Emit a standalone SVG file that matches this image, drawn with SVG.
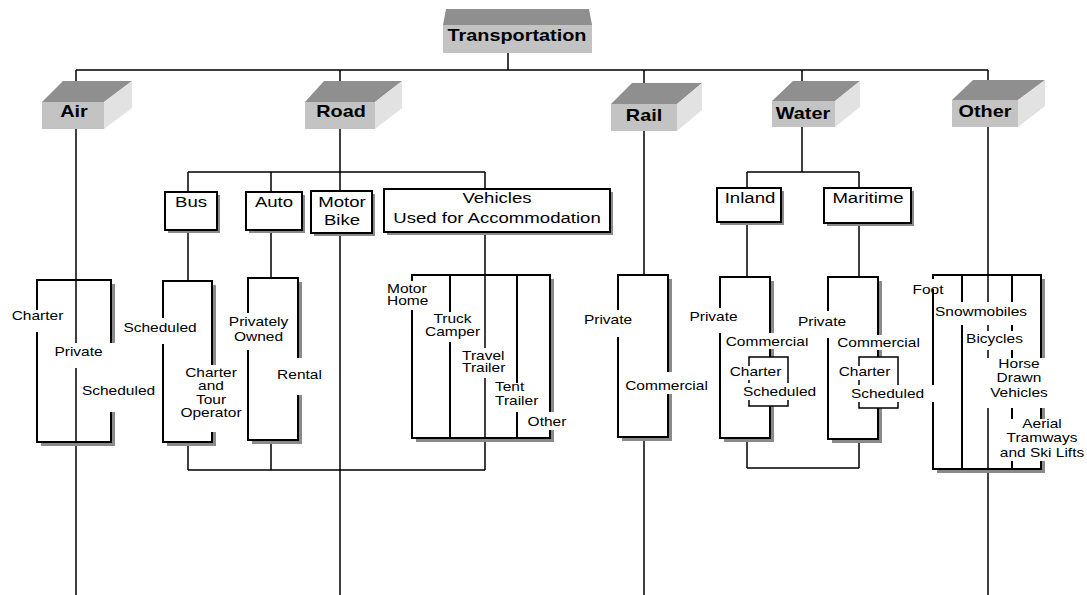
<svg xmlns="http://www.w3.org/2000/svg" width="1087" height="595" viewBox="0 0 1087 595">
<style>
.c{fill:none;stroke:#000;stroke-width:1.5}
.bx{fill:none;stroke:#000;stroke-width:2}
.wb{fill:#fff;stroke:#000;stroke-width:2}
.sh{fill:#8a8a8a}
.top{fill:#8f8f8f}
.fr{fill:#c3c3c3}
.sd{fill:#e2e2e2}
.bg{fill:#fff}
text{font-family:"Liberation Sans",Arial,sans-serif;fill:#000}
.s{font-size:12.5px;text-anchor:middle}
.sl{font-size:12.5px;text-anchor:start}
.b{font-size:15px;text-anchor:middle}
.h{font-size:16px;font-weight:bold;text-anchor:middle}
</style>
<rect width="1087" height="595" fill="#fff"/>
<g id="connectors">
<path class="c" d="M508 53V70M76 70H988M76 70V595M340 70V595M644 70V275M644 437V595M802 70V172M988 70V595"/>
<path class="c" d="M188 172H485M188 172V192M271 172V192M485 172V189M188 230V281M188 442V470M271 230V278M271 440V470M485 232V470M188 470H485"/>
<path class="c" d="M747 172H859M747 172V188M859 172V188M747 222V277M747 438V468M859 223V277M859 439V468M747 468H859"/>
</g>
<g id="transportation">
<polygon class="top" points="443,25 592,25 589,9 446,9"/>
<rect class="fr" x="443" y="25" width="149" height="28"/>
<text class="h" transform="translate(517,41) scale(1.24,1)">Transportation</text>
</g>
<g id="air">
<polygon class="top" points="42,102 104,102 132,81 63,81"/>
<polygon class="sd" points="104,102 132,81 132,108 104,129"/>
<rect class="fr" x="42" y="102" width="62" height="27"/>
<text class="h" transform="translate(74,117) scale(1.24,1)">Air</text>
</g>
<g id="road">
<polygon class="top" points="305,102 375,102 402,81 324,81"/>
<polygon class="sd" points="375,102 402,81 402,108 375,129"/>
<rect class="fr" x="305" y="102" width="70" height="27"/>
<text class="h" transform="translate(341,117) scale(1.24,1)">Road</text>
</g>
<g id="rail">
<polygon class="top" points="611,104 677,104 702,83 632,83"/>
<polygon class="sd" points="677,104 702,83 702,110 677,131"/>
<rect class="fr" x="611" y="104" width="66" height="27"/>
<text class="h" transform="translate(644,121) scale(1.24,1)">Rail</text>
</g>
<g id="water">
<polygon class="top" points="772,101 835,101 860,81 793,81"/>
<polygon class="sd" points="835,101 860,81 860,107 835,127"/>
<rect class="fr" x="772" y="101" width="63" height="26"/>
<text class="h" transform="translate(803,119) scale(1.24,1)">Water</text>
</g>
<g id="other">
<polygon class="top" points="952,100 1018,100 1045,80 973,80"/>
<polygon class="sd" points="1018,100 1045,80 1045,106 1018,127"/>
<rect class="fr" x="952" y="100" width="66" height="27"/>
<text class="h" transform="translate(985,117) scale(1.24,1)">Other</text>
</g>
<g id="bus">
<rect class="sh" x="168" y="195" width="52" height="38"/>
<rect class="wb" x="165" y="192" width="52" height="38"/>
<text class="b" transform="translate(191,207) scale(1.24,1)">Bus</text>
</g>
<g id="auto">
<rect class="sh" x="249" y="195" width="56" height="38"/>
<rect class="wb" x="246" y="192" width="56" height="38"/>
<text class="b" transform="translate(274,207) scale(1.24,1)">Auto</text>
</g>
<g id="motorbike">
<rect class="sh" x="314" y="194" width="61" height="42"/>
<rect class="wb" x="311" y="191" width="61" height="42"/>
<text class="b" transform="translate(342,207) scale(1.24,1)"><tspan x="0">Motor</tspan><tspan x="0" dy="18">Bike</tspan></text>
</g>
<g id="vehicles">
<rect class="sh" x="387" y="192" width="226" height="43"/>
<rect class="wb" x="384" y="189" width="226" height="43"/>
<text class="b" transform="translate(497,203) scale(1.24,1)"><tspan x="0">Vehicles</tspan><tspan x="0" dy="20">Used for Accommodation</tspan></text>
</g>
<g id="inland">
<rect class="sh" x="720" y="191" width="64" height="34"/>
<rect class="wb" x="717" y="188" width="64" height="34"/>
<text class="b" transform="translate(750,203) scale(1.24,1)">Inland</text>
</g>
<g id="maritime">
<rect class="sh" x="827" y="191" width="87" height="35"/>
<rect class="wb" x="824" y="188" width="87" height="35"/>
<text class="b" transform="translate(868,203) scale(1.24,1)">Maritime</text>
</g>
<g id="air-types">
<polygon class="sh" points="111,284 115,284 115,446 41,446 41,442 111,442"/>
<rect class="bx" x="37" y="280" width="74" height="162"/>
</g>
<g id="bus-types">
<polygon class="sh" points="212,285 216,285 216,446 167,446 167,442 212,442"/>
<rect class="bx" x="163" y="281" width="49" height="161"/>
</g>
<g id="auto-types">
<polygon class="sh" points="298,282 302,282 302,444 252,444 252,440 298,440"/>
<rect class="bx" x="248" y="278" width="50" height="162"/>
</g>
<g id="vehicle-types">
<polygon class="sh" points="550,279 554,279 554,442 416,442 416,438 550,438"/>
<rect class="bx" x="412" y="275" width="138" height="163"/>
<path class="bx" d="M450 275V438M517 275V438"/>
</g>
<g id="rail-types">
<polygon class="sh" points="668,279 672,279 672,441 622,441 622,437 668,437"/>
<rect class="bx" x="618" y="275" width="50" height="162"/>
</g>
<g id="inland-types">
<polygon class="sh" points="770,281 774,281 774,442 724,442 724,438 770,438"/>
<rect class="bx" x="720" y="277" width="50" height="161"/>
<rect fill="#fff" stroke="#000" stroke-width="1.5" x="749" y="357" width="39" height="49"/>
</g>
<g id="maritime-types">
<polygon class="sh" points="878,281 882,281 882,443 832,443 832,439 878,439"/>
<rect class="bx" x="828" y="277" width="50" height="162"/>
<rect fill="#fff" stroke="#000" stroke-width="1.5" x="859" y="357" width="39" height="51"/>
</g>
<g id="other-types">
<polygon class="sh" points="1041,279 1045,279 1045,473 937,473 937,469 1041,469"/>
<rect class="bx" x="933" y="275" width="108" height="194"/>
<path class="bx" d="M962 275V469M1012 275V469"/>
</g>
<g id="labels">
<g id="air-charter"><rect class="bg" x="8" y="310" width="57" height="22"/><text class="s" transform="translate(37.5,320) scale(1.24,1)">Charter</text></g>
<g id="air-private"><rect class="bg" x="53" y="343" width="63" height="25"/><text class="s" transform="translate(78.5,356) scale(1.24,1)">Private</text></g>
<g id="air-scheduled"><rect class="bg" x="80" y="368" width="77" height="44"/><text class="s" transform="translate(118.5,395) scale(1.24,1)">Scheduled</text></g>
<g id="bus-scheduled"><rect class="bg" x="121" y="318" width="78" height="26"/><text class="s" transform="translate(160,332) scale(1.24,1)">Scheduled</text></g>
<g id="bus-charter"><rect class="bg" x="177" y="365" width="68" height="67"/><text class="s" transform="translate(211,377) scale(1.24,1)"><tspan x="0">Charter</tspan><tspan x="0" dy="13.5">and</tspan><tspan x="0" dy="13.5">Tour</tspan><tspan x="0" dy="13.5">Operator</tspan></text></g>
<g id="auto-private"><rect class="bg" x="227" y="313" width="63" height="37"/><text class="s" transform="translate(258.5,326) scale(1.24,1)"><tspan x="0">Privately</tspan><tspan x="0" dy="15">Owned</tspan></text></g>
<g id="auto-rental"><rect class="bg" x="276" y="358" width="48" height="37"/><text class="s" transform="translate(299.5,379) scale(1.24,1)">Rental</text></g>
<g id="motor-home"><rect class="bg" x="385" y="281" width="44" height="29"/><text class="sl" transform="translate(387,292.5) scale(1.24,1)"><tspan x="0">Motor</tspan><tspan x="0" dy="12.5">Home</tspan></text></g>
<g id="truck-camper"><rect class="bg" x="423" y="312" width="59" height="30"/><text class="s" transform="translate(452.5,323) scale(1.24,1)"><tspan x="0">Truck</tspan><tspan x="0" dy="13">Camper</tspan></text></g>
<g id="travel-trailer"><rect class="bg" x="460" y="348" width="48" height="30"/><text class="sl" transform="translate(462,360) scale(1.24,1)"><tspan x="0">Travel</tspan><tspan x="0" dy="12.5">Trailer</tspan></text></g>
<g id="tent-trailer"><rect class="bg" x="493" y="383" width="47" height="29"/><text class="sl" transform="translate(495,391) scale(1.24,1)"><tspan x="0">Tent</tspan><tspan x="0" dy="14">Trailer</tspan></text></g>
<g id="vehicle-other"><rect class="bg" x="525" y="412" width="44" height="18"/><text class="s" transform="translate(547,426) scale(1.24,1)">Other</text></g>
<g id="rail-private"><rect class="bg" x="587" y="310" width="42" height="27"/><text class="s" transform="translate(608,324) scale(1.24,1)">Private</text></g>
<g id="rail-commercial"><rect class="bg" x="623" y="372" width="87" height="22"/><text class="s" transform="translate(666.5,390) scale(1.24,1)">Commercial</text></g>
<g id="inland-private"><rect class="bg" x="688" y="308" width="51" height="25"/><text class="s" transform="translate(713.5,321) scale(1.24,1)">Private</text></g>
<g id="inland-commercial"><rect class="bg" x="723" y="333" width="88" height="16"/><text class="s" transform="translate(767,346) scale(1.24,1)">Commercial</text></g>
<g id="inland-charter"><rect class="bg" x="727" y="366" width="57" height="14"/><text class="s" transform="translate(755.5,376) scale(1.24,1)">Charter</text></g>
<g id="inland-scheduled"><rect class="bg" x="740" y="383" width="79" height="17"/><text class="s" transform="translate(779.5,396) scale(1.24,1)">Scheduled</text></g>
<g id="maritime-private"><rect class="bg" x="796" y="311" width="52" height="27"/><text class="s" transform="translate(822,326) scale(1.24,1)">Private</text></g>
<g id="maritime-commercial"><rect class="bg" x="835" y="335" width="87" height="15"/><text class="s" transform="translate(878.5,347) scale(1.24,1)">Commercial</text></g>
<g id="maritime-charter"><rect class="bg" x="836" y="366" width="57" height="14"/><text class="s" transform="translate(864.5,376) scale(1.24,1)">Charter</text></g>
<g id="maritime-scheduled"><rect class="bg" x="848" y="385" width="88" height="17"/><text class="s" transform="translate(887.5,398) scale(1.24,1)">Scheduled</text></g>
<g id="other-foot"><rect class="bg" x="911" y="279" width="34" height="10"/><text class="s" transform="translate(928,294) scale(1.24,1)">Foot</text></g>
<g id="other-snowmobiles"><rect class="bg" x="935" y="302" width="94" height="23"/><text class="s" transform="translate(981,316) scale(1.24,1)">Snowmobiles</text></g>
<g id="other-bicycles"><rect class="bg" x="964" y="331" width="62" height="19"/><text class="s" transform="translate(994.5,343) scale(1.24,1)">Bicycles</text></g>
<g id="other-horse"><rect class="bg" x="986" y="358" width="64" height="50"/><text class="s" transform="translate(1019,368) scale(1.24,1)"><tspan x="0">Horse</tspan><tspan x="0" dy="14.5">Drawn</tspan><tspan x="0" dy="14.5">Vehicles</tspan></text></g>
<g id="other-aerial"><rect class="bg" x="996" y="419" width="91" height="42"/><text class="s" transform="translate(1042,428) scale(1.24,1)"><tspan x="0">Aerial</tspan><tspan x="0" dy="14.5">Tramways</tspan><tspan x="0" dy="14.5">and Ski Lifts</tspan></text></g>
</g>
</svg>
